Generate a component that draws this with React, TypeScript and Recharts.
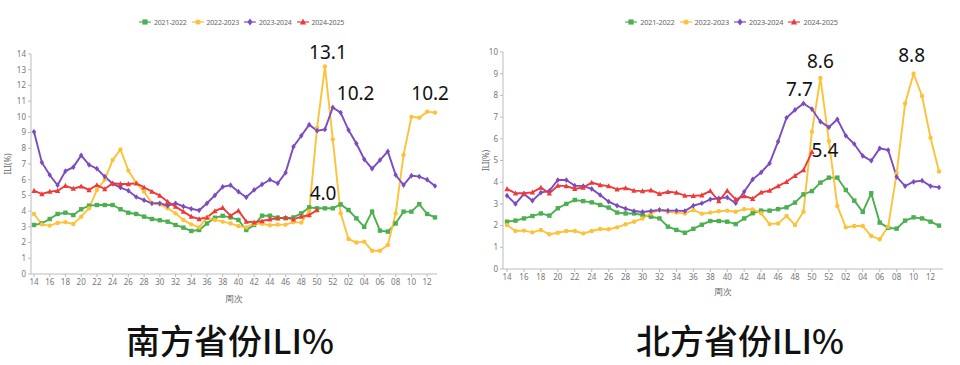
import React from "react";
import { LabelList, Line, LineChart, XAxis, YAxis } from "recharts";

const weeks = [
  "14", "15", "16", "17", "18", "19", "20", "21", "22", "23", "24", "25", "26",
  "27", "28", "29", "30", "31", "32", "33", "34", "35", "36", "37", "38", "39",
  "40", "41", "42", "43", "44", "45", "46", "47", "48", "49", "50", "51", "52",
  "01", "02", "03", "04", "05", "06", "07", "08", "09", "10", "11", "12", "13",
];

const seasons = ["2021-2022", "2022-2023", "2023-2024", "2024-2025"];

// 南方
const south21 = [
  3.12, 3.22, 3.5, 3.82, 3.9, 3.75, 4.12, 4.35, 4.39, 4.39, 4.39, 4.12, 3.9,
  3.82, 3.65, 3.5, 3.42, 3.33, 3.12, 2.95, 2.74, 2.8, 3.22, 3.58, 3.7, 3.6,
  3.44, 2.8, 3.12, 3.71, 3.71, 3.59, 3.55, 3.6, 3.86, 4.24, 4.18, 4.18, 4.18,
  4.43, 4.07, 3.54, 3.0, 3.97, 2.76, 2.7, 3.22, 3.97, 3.97, 4.45, 3.82, 3.6,
];
const south22 = [
  3.82, 3.16, 3.08, 3.25, 3.3, 3.18, 3.65, 4.18, 5.35, 6.0, 7.25, 7.93, 6.58,
  5.8, 5.24, 4.5, 4.43, 4.18, 3.86, 3.44, 3.16, 2.97, 3.6, 3.44, 3.33, 3.22,
  3.05, 2.97, 3.2, 3.2, 3.1, 3.14, 3.14, 3.3, 3.27, 4.0, 9.3, 13.2, 8.57,
  3.86, 2.23, 2.0, 2.06, 1.48, 1.48, 1.85, 3.86, 7.57, 10.0, 9.95, 10.33, 10.27,
];
const south23 = [
  9.05, 7.1, 6.3, 5.65, 6.55, 6.8, 7.55, 6.95, 6.7, 6.2, 5.75, 5.5, 5.3,
  4.9, 4.7, 4.5, 4.5, 4.35, 4.5, 4.3, 4.15, 4.05, 4.5, 5.0, 5.55, 5.65,
  5.24, 4.88, 5.35, 5.7, 6.0, 5.77, 6.45, 8.1, 8.8, 9.5, 9.12, 9.2, 10.6,
  10.27, 9.16, 8.3, 7.3, 6.7, 7.25, 7.8, 6.3, 5.66, 6.26, 6.2, 6.0, 5.6,
];
const south24 = [
  5.3, 5.09, 5.24, 5.3, 5.62, 5.43, 5.58, 5.35, 5.66, 5.41, 5.77, 5.73, 5.73,
  5.77, 5.52, 5.24, 4.99, 4.6, 4.29, 3.97, 3.65, 3.5, 3.6, 4.0, 4.22, 3.7,
  4.03, 3.33, 3.29, 3.37, 3.48, 3.55, 3.59, 3.48, 3.65, 3.75, 4.07,
];

// 北方
const north21 = [
  2.18, 2.23, 2.33, 2.44, 2.56, 2.46, 2.8, 3.0, 3.18, 3.13, 3.07, 2.95, 2.83,
  2.6, 2.56, 2.56, 2.49, 2.41, 2.33, 1.95, 1.8, 1.67, 1.85, 2.04, 2.21, 2.21,
  2.18, 2.07, 2.33, 2.57, 2.69, 2.69, 2.76, 2.84, 3.06, 3.44, 3.59, 3.98, 4.21,
  4.21, 3.64, 3.15, 2.63, 3.49, 2.14, 1.9, 1.86, 2.23, 2.38, 2.33, 2.18, 2.0,
];
const north22 = [
  2.03, 1.75, 1.77, 1.69, 1.8, 1.6, 1.67, 1.75, 1.75, 1.64, 1.75, 1.84, 1.83,
  1.92, 2.06, 2.18, 2.33, 2.56, 2.72, 2.64, 2.6, 2.56, 2.72, 2.55, 2.6, 2.66,
  2.69, 2.64, 2.76, 2.75, 2.57, 2.07, 2.1, 2.44, 2.03, 2.64, 6.33, 8.8, 5.9,
  2.9, 1.92, 1.98, 1.98, 1.52, 1.37, 1.95, 4.41, 7.63, 9.0, 7.97, 6.05, 4.49,
];
const north23 = [
  3.38, 3.0, 3.46, 3.15, 3.52, 3.6, 4.1, 4.1, 3.84, 3.82, 3.69, 3.41, 3.1,
  2.92, 2.78, 2.67, 2.63, 2.67, 2.72, 2.69, 2.69, 2.67, 2.92, 3.03, 3.21, 3.26,
  3.3, 3.03, 3.56, 4.13, 4.45, 4.87, 5.87, 6.97, 7.33, 7.63, 7.37, 6.79, 6.53,
  6.9, 6.14, 5.76, 5.21, 4.99, 5.56, 5.48, 4.25, 3.82, 4.02, 4.07, 3.82, 3.76,
];
const north24 = [
  3.69, 3.49, 3.49, 3.53, 3.75, 3.49, 3.84, 3.82, 3.7, 3.75, 3.98, 3.87, 3.82,
  3.67, 3.73, 3.61, 3.59, 3.63, 3.46, 3.56, 3.52, 3.38, 3.37, 3.4, 3.6, 3.13,
  3.61, 3.21, 3.36, 3.24, 3.53, 3.61, 3.82, 4.02, 4.3, 4.56, 5.4,
];

const southTicks = [0, 1, 2, 3, 4, 5, 6, 7, 8, 9, 10, 11, 12, 13, 14];
const northTicks = [0, 1, 2, 3, 4, 5, 6, 7, 8, 9, 10];

// callouts: series key, week, text, shift from the point
const southNotes = [
  { key: "b", week: "51", text: "13.1", dx: 3, dy: -15 },
  { key: "c", week: "01", text: "10.2", dx: 15, dy: -20 },
  { key: "b", week: "12", text: "10.2", dx: 3, dy: -19 },
  { key: "d", week: "50", text: "4.0", dx: 6, dy: -17 },
];
const northNotes = [
  { key: "b", week: "51", text: "8.6", dx: 0, dy: -17 },
  { key: "b", week: "10", text: "8.8", dx: -2, dy: -19 },
  { key: "c", week: "49", text: "7.7", dx: -4, dy: -14 },
  { key: "d", week: "50", text: "5.4", dx: 13, dy: -2 },
];

const SERIES = [
  { key: "a", name: seasons[0], color: "#4caf50", shape: "square" },
  { key: "b", name: seasons[1], color: "#fcc23a", shape: "circle" },
  { key: "c", name: seasons[2], color: "#7b4cbf", shape: "diamond" },
  { key: "d", name: seasons[3], color: "#ef3a3a", shape: "triangle" },
];

const build = (a: number[], b: number[], c: number[], d: number[]) =>
  weeks.map((w, i) => ({ w, a: a[i], b: b[i], c: c[i], d: d[i] ?? null }));

const southData = build(south21, south22, south23, south24);
const northData = build(north21, north22, north23, north24);

const FONT = "'Noto Sans', 'Open Sans', sans-serif";

function Marker({ cx, cy, shape, color, s = 2.2 }: any) {
  if (cx == null || cy == null) return <g />;
  if (shape === "square")
    return <rect x={cx - s} y={cy - s} width={s * 2} height={s * 2} fill={color} />;
  if (shape === "circle") return <circle cx={cx} cy={cy} r={s} fill={color} />;
  if (shape === "diamond")
    return (
      <polygon
        points={`${cx},${cy - s * 1.3} ${cx + s},${cy} ${cx},${cy + s * 1.3} ${cx - s},${cy}`}
        fill={color}
      />
    );
  return (
    <polygon
      points={`${cx},${cy - s * 1.3} ${cx + s * 1.2},${cy + s} ${cx - s * 1.2},${cy + s}`}
      fill={color}
    />
  );
}

function LegendRow({ center, fontSize }: { center: number; fontSize: number }) {
  return (
    <div
      style={{
        position: "absolute",
        left: center - 150,
        top: 17,
        width: 300,
        display: "flex",
        justifyContent: "center",
        alignItems: "center",
        fontFamily: FONT,
        fontSize,
        letterSpacing: -0.2,
        color: "#666",
        whiteSpace: "nowrap",
      }}
    >
      {SERIES.map((s) => (
        <div key={s.key} style={{ display: "flex", alignItems: "center", marginRight: 5 }}>
          <svg width={12} height={10} style={{ marginRight: 3 }}>
            <line x1={0} y1={5} x2={12} y2={5} stroke={s.color} strokeWidth={1.2} />
            <Marker cx={6} cy={5} shape={s.shape} color={s.color} s={2.6} />
          </svg>
          <span>{s.name}</span>
        </div>
      ))}
    </div>
  );
}

function Panel({
  left,
  data,
  ticks,
  notes,
  margin,
  yWidth,
  xHeight,
  pad,
  xLabelOffset,
  yLabelX,
}: any) {
  const renderNote = (key: string) => (p: any) => {
    const n = notes.find((q: any) => q.key === key && weeks.indexOf(q.week) === p.index);
    if (!n || p.x == null || p.y == null) return null;
    return (
      <text
        x={p.x + n.dx}
        y={p.y + n.dy}
        textAnchor="middle"
        dominantBaseline="central"
        fontSize={19}
        fontFamily={FONT}
        fill="#111"
      >
        {n.text}
      </text>
    );
  };

  return (
    <div style={{ position: "absolute", left, top: 0 }}>
      <LineChart width={480} height={310} data={data} margin={margin}>
        <XAxis
          dataKey="w"
          interval={1}
          padding={pad}
          height={xHeight}
          tickSize={3}
          stroke="#bbb"
          tick={{ fontSize: 8, fill: "#777", fontFamily: FONT }}
          label={(props: any) => {
            const vb = props.viewBox;
            return (
              <text
                x={vb.x + vb.width / 2}
                y={vb.y + vb.height - xLabelOffset}
                textAnchor="middle"
                fontSize={9}
                fill="#666"
                fontFamily={FONT}
              >
                周次
              </text>
            );
          }}
        />
        <YAxis
          width={yWidth}
          domain={[0, ticks[ticks.length - 1]]}
          ticks={ticks}
          interval={0}
          tickSize={3}
          stroke="#bbb"
          tick={{ fontSize: 8, fill: "#777", fontFamily: FONT }}
          label={(props: any) => {
            const vb = props.viewBox;
            const cy = vb.y + vb.height / 2;
            return (
              <text
                x={yLabelX}
                y={cy}
                transform={`rotate(-90 ${yLabelX} ${cy})`}
                textAnchor="middle"
                dominantBaseline="central"
                fontSize={8}
                fill="#666"
                fontFamily={FONT}
              >
                ILI(%)
              </text>
            );
          }}
        />
        {SERIES.map((s) => (
          <Line
            key={s.key}
            type="linear"
            dataKey={s.key}
            name={s.name}
            stroke={s.color}
            strokeWidth={1.9}
            dot={(p: any) => (
              <Marker key={`${s.key}-${p.index}`} cx={p.cx} cy={p.cy} shape={s.shape} color={s.color} />
            )}
            activeDot={false}
            isAnimationActive={false}
          >
            <LabelList dataKey={s.key} content={renderNote(s.key)} />
          </Line>
        ))}
      </LineChart>
    </div>
  );
}

export default function App() {
  return (
    <div
      style={{
        position: "absolute",
        left: 0,
        top: 0,
        width: 960,
        height: 365,
        background: "#fff",
        overflow: "hidden",
      }}
    >
      <LegendRow center={244} fontSize={7} />
      <LegendRow center={734} fontSize={7.4} />
      <Panel
        left={0}
        data={southData}
        ticks={southTicks}
        notes={southNotes}
        margin={{ top: 54, right: 43, left: 0, bottom: 0 }}
        yWidth={31}
        xHeight={36}
        pad={{ left: 3, right: 2 }}
        xLabelOffset={8}
        yLabelX={7}
      />
      <Panel
        left={480}
        data={northData}
        ticks={northTicks}
        notes={northNotes}
        margin={{ top: 52, right: 17, left: 0, bottom: 11 }}
        yWidth={23}
        xHeight={30}
        pad={{ left: 4, right: 4 }}
        xLabelOffset={4}
        yLabelX={5}
      />
      {[
        { cx: 230, text: "南方省份ILI%" },
        { cx: 740, text: "北方省份ILI%" },
      ].map((t) => (
        <div
          key={t.text}
          style={{
            position: "absolute",
            left: t.cx - 150,
            top: 317,
            width: 300,
            textAlign: "center",
            fontFamily: "'Noto Sans CJK SC', 'Noto Sans', sans-serif",
            fontSize: 34,
            fontWeight: 500,
            lineHeight: "46px",
            color: "#111",
          }}
        >
          {t.text}
        </div>
      ))}
    </div>
  );
}
